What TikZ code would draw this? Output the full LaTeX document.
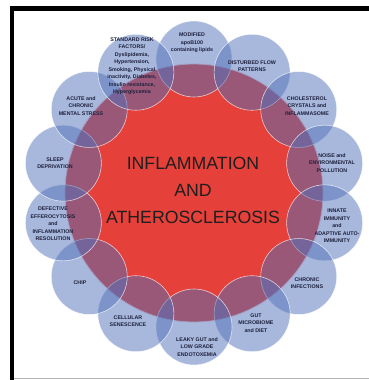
\documentclass[tikz,border=0pt]{standalone}
\usepackage{fontspec}
\setmainfont{Liberation Sans}
\usepackage{tikz}
\usetikzlibrary{calc}
\usepackage{xcolor}
\definecolor{hubred}{RGB}{229,64,58}
\definecolor{factorblue}{RGB}{81,113,185}
\definecolor{labelnavy}{RGB}{30,32,60}

\begin{document}
\begin{tikzpicture}[
    x=1pt, y=1pt,
    hub/.style={circle, draw=white!70!hubred, fill=hubred, line width=0.8pt,
                minimum size=258pt, inner sep=0pt},
    factor/.style={circle, draw=white, draw opacity=0.7, fill=factorblue,
                   fill opacity=0.5, line width=0.6pt, minimum size=76pt,
                   inner sep=0pt},
    factortext/.style={font=\fontsize{5.3}{7.5}\selectfont\bfseries,
                       text=labelnavy, align=center, inner sep=0pt},
    titletext/.style={font=\fontsize{17.7}{27}\selectfont, text=black!88,
                      align=center, inner sep=0pt}
]

\useasboundingbox (0,0) rectangle (369,380);

% frame
\fill[black] (10,369) rectangle (369,374);
\fill[black] (10,0) rectangle (14,374);
\draw[gray!60, line width=0.8pt] (14,2) -- (369,2);

% hub
\node[hub] (hub) at (194,187) {};

% factors
\node[factor] (modified) at ($(hub)+(90:134)$) {};
\node[factor] (disturbed) at ($(hub)+(64.29:134)$) {};
\node[factor] (cholesterol) at ($(hub)+(38.57:134)$) {};
\node[factor] (noise) at ($(hub)+(12.86:134)$) {};
\node[factor] (innate) at ($(hub)+(-12.86:134)$) {};
\node[factor] (chronic) at ($(hub)+(-38.57:134)$) {};
\node[factor] (gut) at ($(hub)+(-64.29:134)$) {};
\node[factor] (leaky) at ($(hub)+(-90:134)$) {};
\node[factor] (cellular) at ($(hub)+(-115.71:134)$) {};
\node[factor] (chip) at ($(hub)+(-141.43:134)$) {};
\node[factor] (defective) at ($(hub)+(-167.14:134)$) {};
\node[factor] (sleep) at ($(hub)+(167.14:134)$) {};
\node[factor] (acute) at ($(hub)+(141.43:134)$) {};
\node[factor] (standard) at ($(hub)+(115.71:134)$) {};

% labels
\node[titletext] (title) at (193,190) {INFLAMMATION\\AND\\ATHEROSCLEROSIS};

\node[factortext] (modifiedlbl) at (192,337) {MODIFIED\\apoB100\\containing lipids};
\node[factortext] (disturbedlbl) at (252,314) {DISTURBED FLOW\\PATTERNS};
\node[factortext] (cholesterollbl) at (307,274) {CHOLESTEROL\\CRYSTALS and\\INFLAMMASOME};
\node[factortext] (noiselbl) at (332,217) {NOISE and\\ENVIRONMENTAL\\POLLUTION};
\node[factortext] (innatelbl) at (337,154) {INNATE\\IMMUNITY\\and\\ADAPTIVE AUTO-\\IMMUNITY};
\node[factortext] (chroniclbl) at (307,97) {CHRONIC\\INFECTIONS};
\node[factortext] (gutlbl) at (256,57) {GUT\\MICROBIOME\\and DIET};
\node[factortext] (leakylbl) at (197,33) {LEAKY GUT and\\LOW GRADE\\ENDOTOXEMIA};
\node[factortext] (cellularlbl) at (128,59) {CELLULAR\\SENESCENCE};
\node[factortext] (chiplbl) at (80,97) {CHIP};
\node[factortext] (defectivelbl) at (53,156) {DEFECTIVE\\EFFEROCYTOSIS\\and\\INFLAMMATION\\RESOLUTION};
\node[factortext] (sleeplbl) at (55,217) {SLEEP\\DEPRIVATION};
\node[factortext] (acutelbl) at (81,274) {ACUTE and\\CHRONIC\\MENTAL STRESS};
\node[factortext] (standardlbl) at (132,314) {STANDARD RISK\\FACTORS/\\Dyslipidemia,\\Hypertension,\\Smoking, Physical\\inactivity, Diabetes,\\Insulin resistance,\\Hyperglycemia};

\end{tikzpicture}
\end{document}
